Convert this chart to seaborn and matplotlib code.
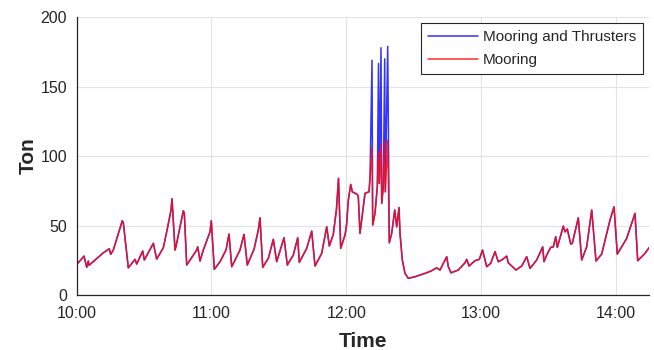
import numpy as np
import pandas as pd
import matplotlib
matplotlib.use("Agg")
import matplotlib.pyplot as plt
import seaborn as sns

# minutes after 10:00
t_min = [0.0, 3.25, 4.45, 5.17, 5.48, 11.84, 14.52, 15.14, 16.30, 20.30, 20.75, 22.98,
         25.96, 26.72, 29.39, 30.10, 34.11, 35.62, 38.56, 40.07, 41.99, 42.43, 43.77,
         44.21, 47.47, 47.91, 48.98, 53.43, 53.88, 54.90, 56.37, 59.36, 59.93, 61.27,
         63.81, 66.48, 67.82, 69.02, 72.71, 74.49, 75.96, 78.95, 80.86, 81.62, 82.82,
         85.32, 87.54, 89.05, 92.31, 93.78, 96.45, 98.41, 99.12, 102.41, 104.64, 106.11,
         109.09, 111.32, 112.48, 114.26, 115.68, 116.57, 117.55, 119.47, 120.13, 120.94,
         122.0, 122.72, 124.94, 125.39, 126.14, 127.62, 128.37, 130.15, 130.60, 131.49,
         131.80, 132.82, 133.85, 134.38, 134.74, 135.50, 135.81, 136.52, 137.14, 137.41,
         138.48, 139.19, 140.26, 141.60, 142.49, 143.51, 143.96, 144.98, 146.18, 147.65,
         150.63, 155.09, 158.07, 160.30, 161.77, 163.24, 164.75, 165.47, 166.67, 169.92,
         172.90, 173.66, 174.68, 177.35, 179.27, 180.69, 182.56, 184.34, 186.26, 187.73,
         189.24, 191.47, 192.18, 195.61, 198.15, 200.37, 201.84, 204.82, 207.50, 208.07,
         209.28, 211.06, 212.22, 213.29, 214.0, 216.67, 217.43, 218.45, 219.97, 220.68,
         223.35, 224.86, 227.09, 229.32, 231.23, 233.77, 237.47, 239.25, 240.72, 244.90,
         248.60, 249.80, 253.05, 254.96]

mooring = [22, 28, 20, 24.5, 21.4, 30.4, 33.3, 29.3, 32.4, 53.5, 52, 19.6,
           25.7, 22.3, 31.7, 25.2, 37.2, 25.9, 34, 45.5, 61, 69.3, 32.4,
           35, 60.6, 59, 21.6, 32.4, 34.7, 24.5, 32.4, 45.5, 53.5, 18.5,
           24, 32.4, 43.9, 20.4, 32.4, 43.7, 21.6, 32.9, 46.8, 55.6, 19.9,
           26.4, 40.1, 24, 41.2, 21.6, 28.8, 41.2, 23.5, 33.6, 46, 20.9,
           30, 49.1, 35.3, 43.7, 62, 84, 33.6, 43.2, 50, 68.3,
           79.6, 74.3, 72.4, 70.7, 44.4, 63.5, 73.2, 74.3, 84, 106.7,
           50.4, 58.8, 77.9, 103, 80.4, 109, 66, 77.9, 110, 74.3,
           111.5, 37.6, 44.4, 61.2, 49.1, 63, 44.4, 25.2, 15.6, 12,
           13.2, 15.6, 17.5, 19.6, 18, 22.8, 27.6, 20.4, 16, 18,
           23.2, 25.7, 20.9, 24.7, 25.7, 32.4, 20.4, 22.8, 31.2, 24,
           25.2, 28, 23.2, 18, 20.9, 27.6, 19.2, 25.2, 34.7, 24,
           28.8, 34.3, 34.7, 42, 34.3, 49.6, 45.5, 47.5, 36.7, 37.2,
           55.6, 25.2, 34.7, 61.2, 24.5, 29.5, 54, 63.5, 29.5, 40.8,
           58.8, 24.7, 30, 34.3]

mooring_thrusters = [22, 28, 20, 24.5, 21.4, 30.4, 33.3, 29.3, 32.4, 53.5, 52, 19.6,
           25.7, 22.3, 31.7, 25.2, 37.2, 25.9, 34, 45.5, 61, 69.3, 32.4,
           35, 60.6, 59, 21.6, 32.4, 34.7, 24.5, 32.4, 45.5, 53.5, 18.5,
           24, 32.4, 43.9, 20.4, 32.4, 43.7, 21.6, 32.9, 46.8, 55.6, 19.9,
           26.4, 40.1, 24, 41.2, 21.6, 28.8, 41.2, 23.5, 33.6, 46, 20.9,
           30, 49.1, 35.3, 43.7, 62, 84, 33.6, 43.2, 50, 68.3,
           79.6, 74.3, 72.4, 70.7, 44.4, 63.5, 73.2, 74.3, 84, 169,
           50.4, 58.8, 77.9, 166.7, 80.4, 178, 66, 77.9, 170, 74.3,
           179, 37.6, 44.4, 61.2, 49.1, 63, 44.4, 25.2, 15.6, 12,
           13.2, 15.6, 17.5, 19.6, 18, 22.8, 27.6, 20.4, 16, 18,
           23.2, 25.7, 20.9, 24.7, 25.7, 32.4, 20.4, 22.8, 31.2, 24,
           25.2, 28, 23.2, 18, 20.9, 27.6, 19.2, 25.2, 34.7, 24,
           28.8, 34.3, 34.7, 42, 34.3, 49.6, 45.5, 47.5, 36.7, 37.2,
           55.6, 25.2, 34.7, 61.2, 24.5, 29.5, 54, 63.5, 29.5, 40.8,
           58.8, 24.7, 30, 34.3]

series_names = ["Mooring and Thrusters", "Mooring"]
x_tick_pos = [0, 60, 120, 180, 240]
x_tick_labels = ["10:00", "11:00", "12:00", "13:00", "14:00"]
y_ticks = [0, 50, 100, 150, 200]

df = pd.concat([
    pd.DataFrame({"t": t_min, "ton": mooring_thrusters, "series": series_names[0]}),
    pd.DataFrame({"t": t_min, "ton": mooring, "series": series_names[1]}),
])

sns.set_theme(style="white")
plt.rcParams["font.family"] = ["Liberation Sans", "DejaVu Sans"]

fig = plt.figure(figsize=(6.54, 3.5), dpi=100)
ax = fig.add_axes([0.1173, 0.157, 0.8755, 0.794])

sns.lineplot(data=df, x="t", y="ton", hue="series", hue_order=series_names,
             palette={"Mooring and Thrusters": "#1010ff", "Mooring": "#ff0a0a"},
             estimator=None, sort=False, linewidth=1.1, alpha=0.85, ax=ax)

ax.set_xlim(0, 254.96)
ax.set_ylim(0, 200)
ax.set_xticks(x_tick_pos)
ax.set_xticklabels(x_tick_labels)
ax.set_yticks(y_ticks)
ax.grid(True, color="#e3e3e3", linewidth=0.8)
ax.set_axisbelow(True)
for s in ["top", "right"]:
    ax.spines[s].set_visible(False)
for s in ["left", "bottom"]:
    ax.spines[s].set_color("#262626")
    ax.spines[s].set_linewidth(0.9)
ax.tick_params(axis="both", direction="in", length=5, width=0.8, colors="#262626",
               labelsize=11.5, labelcolor="#262626")
ax.tick_params(axis="x", pad=8)
ax.tick_params(axis="y", pad=7)
ax.set_xlabel("Time", fontsize=15, fontweight="bold", labelpad=8)
ax.set_ylabel("Ton", fontsize=15, fontweight="bold", labelpad=2)

leg = ax.legend(loc="upper right", fontsize=11, frameon=True, fancybox=False,
                edgecolor="#262626", framealpha=1, borderpad=0.45, handlelength=3.3,
                labelspacing=0.6, handletextpad=0.3, borderaxespad=0.4)
leg.get_frame().set_linewidth(0.8)

fig.savefig("out.png", dpi=100)
